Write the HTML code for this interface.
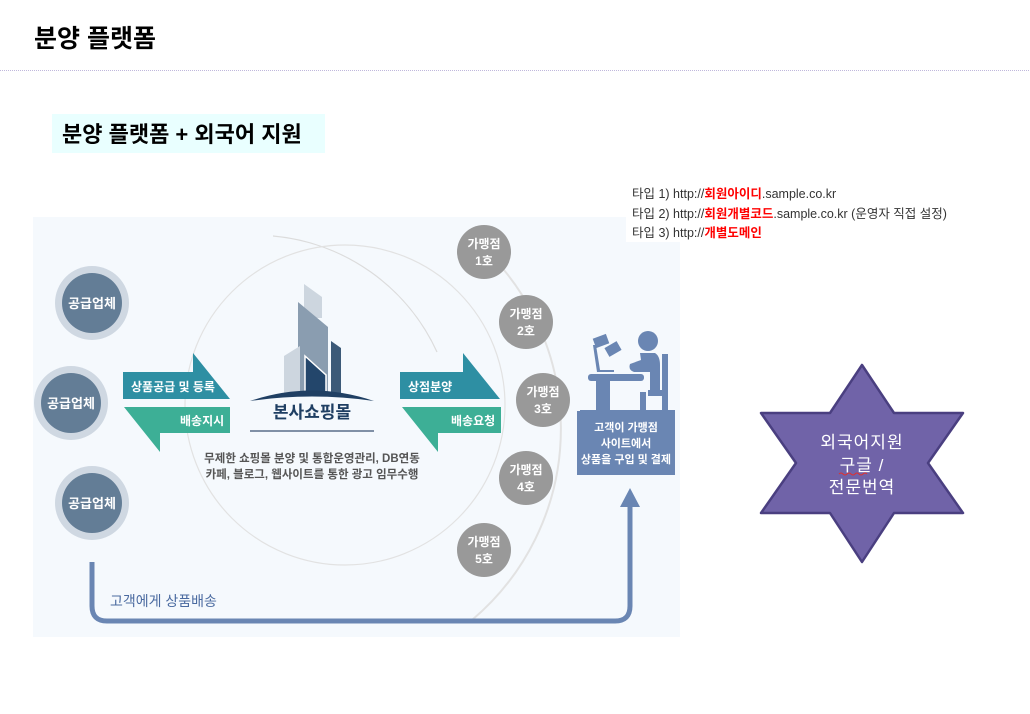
<!DOCTYPE html>
<html><head><meta charset="utf-8"><style>
body{margin:0;width:1030px;height:714px;background:#fff;overflow:hidden;font-family:"Liberation Sans","Noto Sans CJK KR",sans-serif}
</style></head><body>
<svg width="1030" height="714" xmlns="http://www.w3.org/2000/svg" style="position:absolute;left:0;top:0" font-family="Liberation Sans, Noto Sans CJK KR, sans-serif">
<text x="34" y="47" font-size="25" font-weight="bold" fill="#000">분양 플랫폼</text>
<line x1="0" y1="70.5" x2="1030" y2="70.5" stroke="#c0b8dc" stroke-dasharray="1,1"/>
<rect x="52" y="114" width="273" height="39" fill="#e9ffff"/>
<text x="62" y="142" font-size="22" font-weight="bold" fill="#000">분양 플랫폼 + 외국어 지원</text>

<rect x="33" y="217" width="647" height="420" fill="#f5f9fd"/>
<path d="M273 236 A200 200 0 0 1 437 352" fill="none" stroke="#dcdcdc" stroke-width="1.2"/>
<circle cx="345" cy="405" r="160" fill="none" stroke="#e2e2e2" stroke-width="1.2"/>
<path d="M470 236 A250 250 0 0 1 472 620" fill="none" stroke="#e2e2e2" stroke-width="2"/>
<rect x="240" y="390" width="145" height="110" fill="#f5f9fd"/>

<g font-size="13" font-weight="bold" fill="#fff" text-anchor="middle">
<circle cx="92" cy="303" r="37" fill="#cfd8e2"/><circle cx="92" cy="303" r="30" fill="#637d96"/><text x="92" y="308">공급업체</text>
<circle cx="71" cy="403" r="37" fill="#cfd8e2"/><circle cx="71" cy="403" r="30" fill="#637d96"/><text x="71" y="408">공급업체</text>
<circle cx="92" cy="503" r="37" fill="#cfd8e2"/><circle cx="92" cy="503" r="30" fill="#637d96"/><text x="92" y="508">공급업체</text>
</g>

<polygon points="123,372 193,372 193,353 230,399 123,399" fill="#2e8fa3"/>
<polygon points="124,407 230,407 230,433 160,433 160,452" fill="#3daf96"/>
<polygon points="400,372 463,372 463,353 500,399 400,399" fill="#2e8fa3"/>
<polygon points="402,407 501,407 501,433 438,433 438,452" fill="#3daf96"/>
<g font-size="12" font-weight="bold" fill="#fff">
<text x="131" y="391">상품공급 및 등록</text>
<text x="180" y="425">배송지시</text>
<text x="408" y="391">상점분양</text>
<text x="451" y="425">배송요청</text>
</g>

<polygon points="304,284 322,297 322,318 304,318" fill="#cdd6df"/>
<polygon points="298,302 328,327 328,392 298,392" fill="#8a9db0"/>
<polygon points="331,341 341,348 341,394 331,394" fill="#3c5a78"/>
<polygon points="284,356 300,346 300,394 284,394" fill="#cdd6df"/>
<polygon points="305,356 326,375 326,394 305,394" fill="#23466b" stroke="#fff" stroke-width="1.5"/>
<path d="M250 401 Q312 380 374 401 Q312 392 250 401Z" fill="#1f3f63"/>
<text x="312" y="418" font-size="17" font-weight="bold" fill="#1f3f63" text-anchor="middle">본사쇼핑몰</text>
<line x1="250" y1="431" x2="374" y2="431" stroke="#5a6e8a" stroke-width="1.5"/>
<g font-size="11.5" font-weight="bold" fill="#555" text-anchor="middle">
<text x="312" y="462">무제한 쇼핑몰 분양 및 통합운영관리, DB연동</text>
<text x="312" y="478">카페, 블로그, 웹사이트를 통한 광고 임무수행</text>
</g>

<g font-size="12" font-weight="bold" fill="#fff" text-anchor="middle">
<circle cx="484" cy="252" r="27" fill="#999"/><text x="484" y="248">가맹점</text><text x="484" y="265">1호</text>
<circle cx="526" cy="322" r="27" fill="#999"/><text x="526" y="318">가맹점</text><text x="526" y="335">2호</text>
<circle cx="543" cy="400" r="27" fill="#999"/><text x="543" y="396">가맹점</text><text x="543" y="413">3호</text>
<circle cx="526" cy="478" r="27" fill="#999"/><text x="526" y="474">가맹점</text><text x="526" y="491">4호</text>
<circle cx="484" cy="550" r="27" fill="#999"/><text x="484" y="546">가맹점</text><text x="484" y="563">5호</text>
</g>

<g fill="#6a86b3">
<circle cx="648" cy="341" r="10"/>
<path d="M640 353 L655 353 Q660 356 660 365 L660 392 L650 392 L650 372 L634 372 Q628 370 630 364 L641 360Z"/>
<rect x="662" y="354" width="6" height="56"/>
<rect x="648" y="390" width="20" height="6"/>
<rect x="640" y="392" width="6" height="18"/>
<rect x="588" y="374" width="56" height="7" rx="3"/>
<rect x="596" y="380" width="14" height="31"/>
<rect x="580" y="410" width="95" height="2"/>
<path d="M593 345 L597 372 L614 372 L614 370 L600 370 L596 345Z"/>
<rect x="594" y="336" width="14" height="10" transform="rotate(-20 601 341)"/>
<rect x="606" y="344" width="14" height="10" transform="rotate(-30 613 349)"/>
<rect x="577" y="411" width="98" height="64"/>
</g>
<g font-size="11" font-weight="bold" fill="#fff" text-anchor="middle">
<text x="626" y="431">고객이 가맹점</text><text x="626" y="447">사이트에서</text><text x="626" y="463">상품을 구입 및 결제</text>
</g>

<path d="M92 562 L92 606 Q92 621 107 621 L615 621 Q630 621 630 606 L630 505" fill="none" stroke="#6a86b3" stroke-width="5"/>
<polygon points="630,488 620,507 640,507" fill="#6a86b3"/>
<text x="110" y="606" font-size="14" fill="#4a6aa0">고객에게 상품배송</text>

<rect x="626" y="180" width="336" height="62" fill="#fff"/>
<g font-size="12.5" fill="#333">
<text x="632" y="198">타입 1) http://<tspan fill="#f00" font-weight="bold">회원아이디</tspan>.sample.co.kr</text>
<text x="632" y="218">타입 2) http://<tspan fill="#f00" font-weight="bold">회원개별코드</tspan>.sample.co.kr (운영자 직접 설정)</text>
<text x="632" y="237">타입 3) http://<tspan fill="#f00" font-weight="bold">개별도메인</tspan></text>
</g>

<polygon points="862,365 894,413 963,413 928,463 963,513 894,513 862,562 830,513 761,513 796,463 761,413 830,413" fill="#7063a8" stroke="#4a3f80" stroke-width="2.5" stroke-linejoin="round"/>
<g font-size="17" fill="#fff" text-anchor="middle" letter-spacing="1">
<text x="862" y="448">외국어지원</text>
<text x="862" y="471">구글 /</text>
<text x="862" y="493">전문번역</text>
</g>
<path d="M839 474 q2 -2 4 0 t4 0 t4 0 t4 0 t4 0 t4 0 t4 0" fill="none" stroke="#e03030" stroke-width="1"/>
</svg>
</body></html>
